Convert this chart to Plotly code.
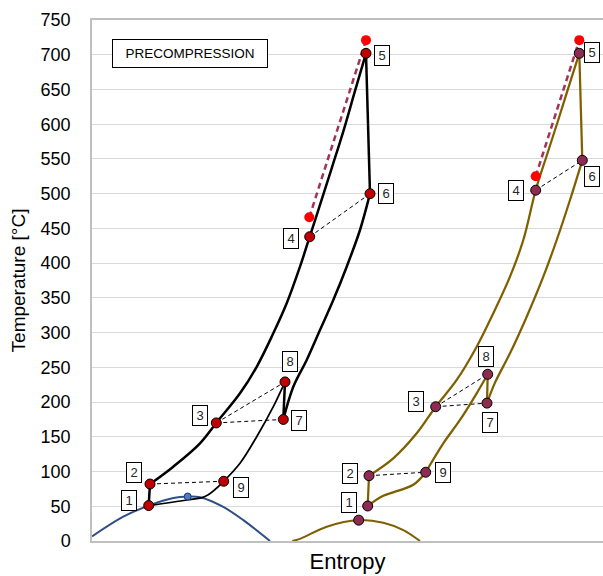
import plotly.graph_objects as go

# ---------------- data (entropy in arbitrary units, temperature in °C) ----------------
# Left cycle (black)
L_heat_s = [58, 81.3, 108, 124.3, 148, 164.7, 181.3, 194.7, 208, 217.7, 228, 240, 252, 263, 274]
L_heat_T = [82, 107, 140.6, 170, 212.6, 250.8, 299, 342.2, 394.9, 438, 484, 538, 593, 648, 702]
L_turb_s = [274, 278]
L_turb_T = [702, 500]
L_htr_s = [278, 268, 254.7, 241.3, 228, 214.7, 201.3, 191.3]
L_htr_T = [500, 447.7, 394.9, 346.9, 303.7, 260.6, 222.1, 175]
L_pre_s = [191.3, 193]
L_pre_T = [175, 229]
L_ltr_s = [193, 181.3, 164.7, 148, 131.7]
L_ltr_T = [229, 193.3, 150.1, 111.9, 86]
L_cool_s = [131.7, 113, 94.7, 56.7]
L_cool_T = [86, 64, 59, 51]
L_pump_s = [56.7, 58]
L_pump_T = [51, 82]
L_state_s = [56.7, 58, 124.3, 217.7, 274, 278, 191.3, 193, 131.7]
L_state_T = [51, 82, 170, 438, 702, 500, 175, 229, 86]
L_labels = ["1", "2", "3", "4", "5", "6", "7", "8", "9"]
L_ideal_s = [217.3, 274]
L_ideal_T = [466, 721]

# Right cycle (olive)
R_heat_s = [277, 301.3, 324.7, 343.7, 364.7, 384.7, 401.3, 418, 431.3, 443.7, 455, 466, 476.5, 487.3]
R_heat_T = [94, 119, 155, 193.3, 231.8, 279.7, 327.8, 380.5, 433.3, 505, 556, 605, 653, 702]
R_turb_s = [487.3, 490.3]
R_turb_T = [702, 548]
R_htr_s = [490.3, 478, 464.7, 451.3, 434.7, 418, 403, 395]
R_htr_T = [548, 490.9, 433.3, 380.5, 322.9, 270.2, 228, 198.5]
R_pre_s = [395, 395.7]
R_pre_T = [198.5, 240]
R_ltr_s = [395.7, 384.7, 368, 351.3, 333.7]
R_ltr_T = [240, 212.6, 174.2, 140.6, 99]
R_cool_s = [333.7, 321.3, 291.3, 275.7]
R_cool_T = [99, 81, 65, 50.4]
R_pump_s = [275.7, 277]
R_pump_T = [50.4, 94]
R_state_s = [275.7, 277, 343.7, 443.7, 487.3, 490.3, 395, 395.7, 333.7]
R_state_T = [50.4, 94, 193.3, 505, 702, 548, 198.5, 240, 99]
R_labels = ["1", "2", "3", "4", "5", "6", "7", "8", "9"]
R_ideal_s = [443.7, 487.3]
R_ideal_T = [525, 721]

# Saturation domes
L_dome_s = [0, 31.3, 56.7, 81.3, 95.7, 108, 131.3, 151.3, 178]
L_dome_T = [6.5, 35, 51, 62, 64, 63, 49, 30, 0]
L_crit_s = [95.7]
L_crit_T = [64]
R_dome_s = [200.3, 208, 234.7, 266.7, 291.3, 311.3, 328]
R_dome_T = [0, 3, 20.6, 30.2, 26.4, 15.8, 0]
R_crit_s = [266.7]
R_crit_T = [30]

# Label offsets in pixels (dx, dy)
L_off = [(-20, 5), (-16, 12), (-16, 7), (-19, -2), (16, -2), (16, 0), (16, -1), (5, 20), (17, -6)]
R_off = [(-19, 3), (-19, 2), (-20, 5), (-20, 0), (13, 1), (10, -16), (3, -19), (-2, 18), (17, 0)]

y_ticks = list(range(0, 751, 50))

# ---------------- styles ----------------
BLACK = "#000000"
OLIVE = "#7F6000"
DOME_BLUE = "#2F4F86"
RED_FILL = "#C00000"
MAROON = "#8E2B50"
IDEAL_RED = "#FF0000"
IDEAL_LINE = "#A3325A"
FONT = "Liberation Sans"

fig = go.Figure()


def line(s, T, color, width=2.25, shape="spline", dash="solid", smoothing=1.0):
    fig.add_trace(go.Scatter(
        x=s, y=T, mode="lines",
        line=dict(color=color, width=width, shape=shape, dash=dash,
                  smoothing=smoothing if shape == "spline" else None),
        hoverinfo="skip", showlegend=False))


# domes
line(L_dome_s, L_dome_T, DOME_BLUE, width=2)
line(R_dome_s, R_dome_T, OLIVE, width=2)

# dashed recuperator connectors
for st_s, st_T in ((L_state_s, L_state_T), (R_state_s, R_state_T)):
    for a, b in ((1, 8), (2, 7), (2, 6), (3, 5)):
        line([st_s[a], st_s[b]], [st_T[a], st_T[b]], "#000000", width=1,
             shape="linear", dash="4px,3px")

# ideal (red dashed)
line(L_ideal_s, L_ideal_T, IDEAL_LINE, width=2.5, shape="linear", dash="6px,4px")
line(R_ideal_s, R_ideal_T, IDEAL_LINE, width=2.5, shape="linear", dash="6px,4px")

# cycles
for (hs, hT, ts, tT, hrs, hrT, ps, pT, ls, lT, cs, cT, pus, puT, col) in (
        (L_heat_s, L_heat_T, L_turb_s, L_turb_T, L_htr_s, L_htr_T, L_pre_s, L_pre_T,
         L_ltr_s, L_ltr_T, L_cool_s, L_cool_T, L_pump_s, L_pump_T, BLACK),
        (R_heat_s, R_heat_T, R_turb_s, R_turb_T, R_htr_s, R_htr_T, R_pre_s, R_pre_T,
         R_ltr_s, R_ltr_T, R_cool_s, R_cool_T, R_pump_s, R_pump_T, OLIVE)):
    w = 2.5 if col == BLACK else 2.25
    line(hs, hT, col, width=w)
    line(ts, tT, col, width=w, shape="linear")
    line(hrs, hrT, col, width=w)
    line(ps, pT, col, width=w, shape="linear")
    line(ls, lT, col, width=1.75 if col == BLACK else w)
    line(cs, cT, col, width=1.75 if col == BLACK else w)
    line(pus, puT, col, width=w, shape="linear")

# markers
fig.add_trace(go.Scatter(x=L_ideal_s + R_ideal_s, y=L_ideal_T + R_ideal_T, mode="markers",
                         marker=dict(color=IDEAL_RED, size=10, line=dict(width=0)),
                         hoverinfo="skip", showlegend=False))
fig.add_trace(go.Scatter(x=L_state_s, y=L_state_T, mode="markers",
                         marker=dict(color=RED_FILL, size=10, line=dict(color="#000000", width=1)),
                         hoverinfo="skip", showlegend=False))
fig.add_trace(go.Scatter(x=R_state_s + R_crit_s, y=R_state_T + R_crit_T, mode="markers",
                         marker=dict(color=MAROON, size=10, line=dict(color="#000000", width=1)),
                         hoverinfo="skip", showlegend=False))
fig.add_trace(go.Scatter(x=L_crit_s, y=L_crit_T, mode="markers",
                         marker=dict(color="#4A7CC8", size=7, line=dict(color="#1F3864", width=1)),
                         hoverinfo="skip", showlegend=False))

# boxed labels
annotations = []
for st_s, st_T, labs, offs in ((L_state_s, L_state_T, L_labels, L_off),
                                (R_state_s, R_state_T, R_labels, R_off)):
    for s, T, lab, (dx, dy) in zip(st_s, st_T, labs, offs):
        annotations.append(dict(
            x=s, y=T, xref="x", yref="y", text=lab, showarrow=False,
            xanchor="center", yanchor="middle",
            xshift=dx, yshift=dy, font=dict(family=FONT, size=13, color="#262626"),
            bgcolor="#FFFFFF", bordercolor="#000000", borderwidth=1, borderpad=1,
            width=12, height=17, align="center", valign="middle"))

annotations.append(dict(
    x=(190 - 92) / 511, y=1 - (53.5 - 20) / 521, xref="paper", yref="paper",
    xanchor="center", yanchor="middle",
    text="PRECOMPRESSION", showarrow=False,
    font=dict(family=FONT, size=13.5, color="#000000"),
    bgcolor="#FFFFFF", bordercolor="#000000", borderwidth=1, borderpad=1,
    width=152, height=25, align="center", valign="middle"))

fig.update_layout(
    width=603, height=576,
    margin=dict(l=92, r=0, t=20, b=35),
    paper_bgcolor="#FFFFFF", plot_bgcolor="#FFFFFF",
    font=dict(family=FONT, color="#000000"),
    annotations=annotations,
    xaxis=dict(range=[0, 511], showticklabels=False, ticks="", showgrid=False,
               zeroline=False, showline=True, linecolor="#BFBFBF", linewidth=1.5,
               mirror=True,
               title=dict(text="Entropy", font=dict(family=FONT, size=22, color="#000000"),
                          standoff=12)),
    yaxis=dict(range=[0, 750], tickvals=y_ticks, ticktext=[str(v) for v in y_ticks],
               showgrid=True, gridcolor="#D9D9D9", gridwidth=1, zeroline=False,
               showline=True, linecolor="#BFBFBF", linewidth=1.5, ticks="",
               tickfont=dict(family=FONT, size=18, color="#000000"), ticklabelstandoff=16,
               title=dict(text="Temperature [°C]", font=dict(family=FONT, size=19, color="#000000"),
                          standoff=10)),
)

fig.write_html("out.html")
